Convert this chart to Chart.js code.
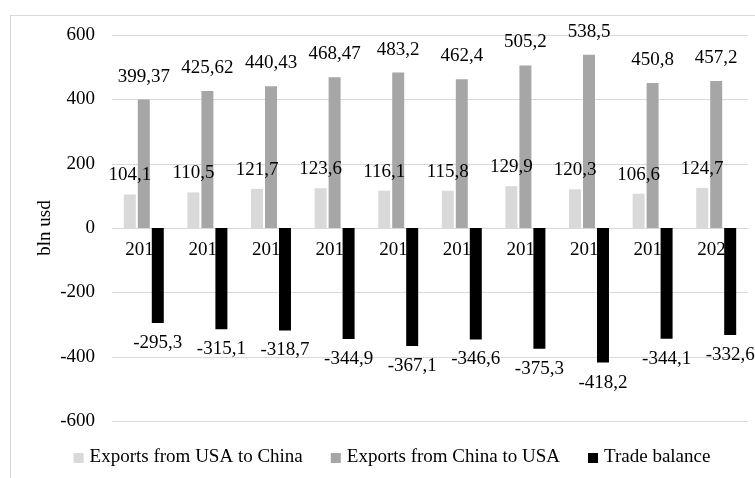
<!DOCTYPE html>
<html>
<head>
<meta charset="utf-8">
<script src="https://cdn.jsdelivr.net/npm/chart.js@4.4.1/dist/chart.umd.min.js"></script>
<style>
  html, body { margin: 0; padding: 0; background: #fff; }
  #wrap { width: 755px; height: 478px; }
</style>
</head>
<body>
<div id="wrap"><canvas id="tradeChart" width="755" height="478"></canvas></div>
<script>
const years = ["2011", "2012", "2013", "2014", "2015", "2016", "2017", "2018", "2019", "2020"];
const exportsUsaToChina = [104.1, 110.5, 121.7, 123.6, 116.1, 115.8, 129.9, 120.3, 106.6, 124.7];
const exportsChinaToUsa = [399.37, 425.62, 440.43, 468.47, 483.2, 462.4, 505.2, 538.5, 450.8, 457.2];
const tradeBalance = [-295.3, -315.1, -318.7, -344.9, -367.1, -346.6, -375.3, -418.2, -344.1, -332.6];
const yMin = -600;
const yMax = 600;
const yStep = 200;

const serif = '"Liberation Serif", "Times New Roman", serif';
Chart.defaults.font.family = serif;
Chart.defaults.font.size = 19;
Chart.defaults.color = "#000";

// white background plus the thin frame around the whole chart
const frame = {
  id: "frame",
  beforeDraw(chart) {
    const ctx = chart.ctx;
    ctx.save();
    ctx.fillStyle = "#fff";
    ctx.fillRect(0, 0, chart.width, chart.height);
    ctx.strokeStyle = "#d9d9d9";
    ctx.lineWidth = 1;
    ctx.strokeRect(10.5, 15.5, chart.width + 20, chart.height + 20);
    ctx.restore();
  }
};

// horizontal grid at every y tick, edges included
const hGrid = {
  id: "hGrid",
  beforeDatasetsDraw(chart) {
    const { ctx, chartArea, scales } = chart;
    ctx.save();
    ctx.strokeStyle = "#d9d9d9";
    ctx.lineWidth = 1;
    scales.y.ticks.forEach(t => {
      const py = Math.round(scales.y.getPixelForValue(t.value)) + 0.5;
      ctx.beginPath();
      ctx.moveTo(chartArea.left, py);
      ctx.lineTo(chartArea.right, py);
      ctx.stroke();
    });
    ctx.restore();
  }
};

// numbers over / under each bar, decimal comma
const valueLabels = {
  id: "valueLabels",
  afterDatasetsDraw(chart) {
    const ctx = chart.ctx;
    ctx.save();
    ctx.font = "19px " + serif;
    ctx.fillStyle = "#000";
    ctx.textAlign = "center";
    ctx.textBaseline = "middle";
    chart.data.datasets.forEach((ds, i) => {
      chart.getDatasetMeta(i).data.forEach((bar, j) => {
        const v = ds.data[j];
        const y = v >= 0 ? bar.y - ds.labelGap : bar.y + ds.labelGap;
        ctx.fillText(String(v).replace(".", ","), bar.x, y);
      });
    });
    ctx.restore();
  }
};

// legend row under the plot
const bottomLegend = {
  id: "bottomLegend",
  afterDraw(chart) {
    const ctx = chart.ctx;
    const box = 10, gap = 6, spacing = 28, centerX = 392, y = 458;
    ctx.save();
    ctx.font = "19px " + serif;
    ctx.textBaseline = "middle";
    const items = chart.data.datasets.map(ds => ({
      text: ds.label,
      color: ds.backgroundColor,
      w: ctx.measureText(ds.label).width
    }));
    const total = items.reduce((s, it) => s + box + gap + it.w, 0) + spacing * (items.length - 1);
    let x = centerX - total / 2;
    items.forEach(it => {
      ctx.fillStyle = it.color;
      ctx.fillRect(x, y - box / 2, box, box);
      ctx.fillStyle = "#000";
      ctx.fillText(it.text, x + box + gap, y - 1);
      x += box + gap + it.w + spacing;
    });
    ctx.restore();
  }
};

const ctx = document.getElementById("tradeChart").getContext("2d");
new Chart(ctx, {
  type: "bar",
  data: {
    labels: years,
    datasets: [
      { label: "Exports from USA to China", data: exportsUsaToChina, backgroundColor: "#d9d9d9", labelGap: 19 },
      { label: "Exports from China to USA", data: exportsChinaToUsa, backgroundColor: "#a6a6a6", labelGap: 23 },
      { label: "Trade balance", data: tradeBalance, backgroundColor: "#000000", labelGap: 20 }
    ]
  },
  options: {
    responsive: false,
    animation: false,
    categoryPercentage: 0.66,
    barPercentage: 0.857,
    layout: { padding: { left: 0, top: 35, right: 7, bottom: 57 } },
    scales: {
      x: {
        position: { y: 0 },
        grid: { display: false, drawTicks: false },
        border: { color: "#d9d9d9" },
        ticks: { padding: 11, maxRotation: 0, autoSkip: false }
      },
      y: {
        min: yMin,
        max: yMax,
        ticks: { stepSize: yStep, padding: 17 },
        grid: { display: false, drawTicks: false },
        border: { display: false },
        title: { display: true, text: "bln usd", padding: { top: 34, bottom: 0 } },
        afterFit(scale) { scale.width = 112; }
      }
    },
    plugins: {
      legend: { display: false },
      tooltip: { enabled: false }
    }
  },
  plugins: [frame, hGrid, valueLabels, bottomLegend]
});
</script>
</body>
</html>
